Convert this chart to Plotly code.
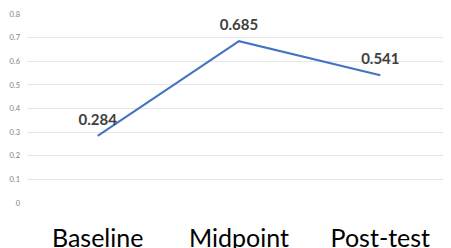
import plotly.graph_objects as go

categories = ["Baseline", "Midpoint", "Post-test"]
values = [0.284, 0.685, 0.541]
value_labels = ["0.284", "0.685", "0.541"]
y_ticks = [0, 0.1, 0.2, 0.3, 0.4, 0.5, 0.6, 0.7, 0.8]
y_tick_labels = ["0", "0.1", "0.2", "0.3", "0.4", "0.5", "0.6", "0.7", "0.8"]

fig = go.Figure()
fig.add_trace(go.Scatter(
    x=categories, y=values, mode="lines+markers+text",
    line=dict(color="#4472C4", width=2),
    marker=dict(size=10, color="rgba(0,0,0,0)"),
    text=value_labels, textposition="top center",
    textfont=dict(family="Lato", size=15, color="#404040", weight="bold"),
    cliponaxis=False,
))
fig.update_layout(
    width=443, height=240,
    margin=dict(l=19, r=0, t=6, b=45),
    paper_bgcolor="white", plot_bgcolor="white",
    showlegend=False,
    xaxis=dict(showgrid=False, showline=False, ticks="", ticklabelstandoff=18,
               range=[-0.5, 2.5], automargin=False,
               tickfont=dict(family="Lato", size=25, color="#000000")),
    yaxis=dict(range=[0, 0.8], tickvals=y_ticks, ticktext=y_tick_labels,
               showgrid=True, gridcolor="#E6E6E6", gridwidth=1, zeroline=False,
               showline=False, ticks="", ticklabelstandoff=6, automargin=False,
               tickfont=dict(family="Lato", size=7.5, color="#7F7F7F")),
)
fig.write_html("out.html")
